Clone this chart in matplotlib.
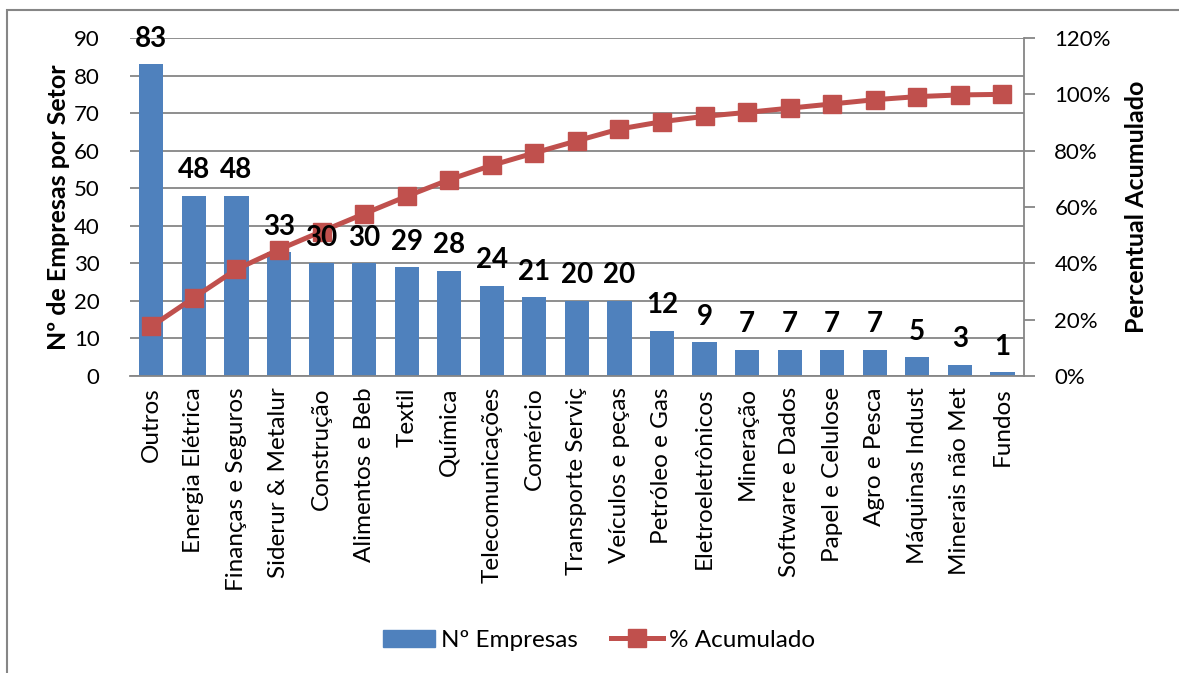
import matplotlib.pyplot as plt
from matplotlib.patches import Rectangle
from matplotlib.lines import Line2D
from matplotlib.ticker import PercentFormatter

plt.rcParams['font.family'] = ['Lato', 'DejaVu Sans']

# setores e numero de empresas
setores = ['Outros', 'Energia Elétrica', 'Finanças e Seguros', 'Siderur & Metalur',
           'Construção', 'Alimentos e Beb', 'Textil', 'Química', 'Telecomunicações',
           'Comércio', 'Transporte Serviç', 'Veículos e peças', 'Petróleo e Gas',
           'Eletroeletrônicos', 'Mineração', 'Software e Dados', 'Papel e Celulose',
           'Agro e Pesca', 'Máquinas Indust', 'Minerais não Met', 'Fundos']
empresas = [83, 48, 48, 33, 30, 30, 29, 28, 24, 21, 20, 20, 12, 9, 7, 7, 7, 7, 5, 3, 1]
# percentual acumulado (fração)
acumulado = [0.176, 0.278, 0.379, 0.449, 0.513, 0.576, 0.638, 0.697, 0.748, 0.792,
             0.835, 0.877, 0.903, 0.922, 0.936, 0.951, 0.966, 0.981, 0.992, 0.998, 1.0]

azul = '#4F81BD'
vermelho = '#C0504D'
cinza = '#868686'

fig = plt.figure(figsize=(11.79, 6.73), dpi=100)
# moldura externa
fig.patches.append(Rectangle((7 / 1179, -0.05), 1.2, 1 - 10 / 673 + 0.05,
                             transform=fig.transFigure, fill=False,
                             edgecolor=cinza, linewidth=1.5))

ax = fig.add_axes([0.1103, 0.4413, 0.758, 0.5022])
x = list(range(len(setores)))
ax.bar(x, empresas, width=0.57, color=azul, zorder=2)
ax.set_xlim(-0.5, len(setores) - 0.5)
ax.set_ylim(0, 90)
ax.set_yticks(range(0, 91, 10))
ax.grid(axis='y', color=cinza, linewidth=1.3, zorder=0)
ax.set_axisbelow(True)
for s in ['top', 'left', 'right']:
    ax.spines[s].set_visible(False)
ax.spines['bottom'].set_color(cinza)
ax.spines['bottom'].set_linewidth(1.3)
ax.tick_params(axis='y', length=0, pad=22, labelsize=16)
ax.tick_params(axis='x', length=0, pad=8, labelsize=17.5)
ax.set_xticks(x)
ax.set_xticklabels(setores, rotation=90)
ax.set_ylabel('Nº de Empresas por Setor', fontsize=18, fontweight='bold')
ax.yaxis.set_label_coords(-0.067, 0.5)

ax2 = ax.twinx()
ax2.plot(x, acumulado, color=vermelho, linewidth=3.6, marker='s', markersize=13,
         zorder=3)
ax2.set_ylim(0, 1.2)
ax2.set_yticks([0, 0.2, 0.4, 0.6, 0.8, 1.0, 1.2])
ax2.yaxis.set_major_formatter(PercentFormatter(1.0, decimals=0))
for s in ['top', 'left', 'bottom']:
    ax2.spines[s].set_visible(False)
ax2.spines['right'].set_color(cinza)
ax2.spines['right'].set_linewidth(1.3)
ax2.tick_params(axis='y', length=8, width=1.3, color=cinza, pad=14, labelsize=16)
ax2.set_ylabel('Percentual Acumulado', fontsize=18, fontweight='bold')
ax2.yaxis.set_label_coords(1.113, 0.5)

# rótulos de dados por cima da linha
for xi, v in zip(x, empresas):
    ax2.annotate(str(v), (xi, v), xycoords=ax.transData, xytext=(0, 9),
                 textcoords='offset points', ha='center', va='bottom',
                 fontsize=20, fontweight='bold', zorder=5)

handles = [Rectangle((0, 0), 1, 1, color=azul),
           Line2D([], [], color=vermelho, linewidth=3.6, marker='s', markersize=13)]
fig.legend(handles, ['Nº Empresas', '% Acumulado'], loc='center',
           bbox_to_anchor=(0.508, 0.049), ncol=2, frameon=False, fontsize=17.5,
           handlelength=2.15, columnspacing=1.36, handletextpad=0.25)

fig.savefig('out.png', dpi=100)
